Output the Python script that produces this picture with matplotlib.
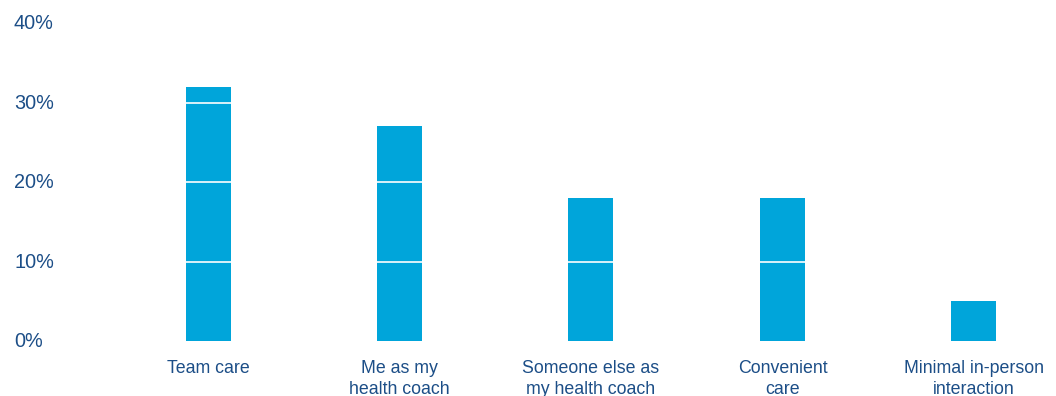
import matplotlib as mpl
mpl.use("Agg")
import matplotlib.pyplot as plt
from matplotlib.transforms import blended_transform_factory

categories = ["Team care", "Me as my\nhealth coach", "Someone else as\nmy health coach",
              "Convenient\ncare", "Minimal in-person\ninteraction"]
shares = [32, 27, 18, 18, 5]
yticks = [0, 10, 20, 30, 40]
ytick_labels = ["0%", "10%", "20%", "30%", "40%"]

BAR = "#00A5DA"
TEXT = "#1C4E87"

plt.rcParams.update({"font.family": ["Liberation Sans", "DejaVu Sans"], "font.size": 12.5})

fig = plt.figure(figsize=(10.56, 3.96), dpi=100)
ax = fig.add_axes([150 / 1056, 55 / 396, 890 / 1056, 318 / 396])

ax.bar(range(len(shares)), shares, width=0.235, color=BAR, zorder=1)
ax.set_xlim(-0.303, 4.345)
ax.set_ylim(0, 40)

# white rules cut across the bars
for y in yticks[1:-1]:
    ax.axhline(y, color="white", lw=1.2, zorder=2)

for s in ax.spines.values():
    s.set_visible(False)
ax.set_yticks([])
ax.set_xticks(range(len(categories)))
ax.set_xticklabels(categories, color=TEXT, va="top", linespacing=1.3, fontsize=12.8)
ax.tick_params(axis="x", length=0, pad=14)

# left-aligned percentage labels at the figure edge
tr = blended_transform_factory(fig.transFigure, ax.transData)
for y, lab in zip(yticks, ytick_labels):
    ax.text(14 / 1056, y - 0.1, lab, transform=tr, ha="left", va="center", color=TEXT, fontsize=14.3)

fig.savefig("out.png", dpi=100, facecolor="white")
plt.close(fig)
